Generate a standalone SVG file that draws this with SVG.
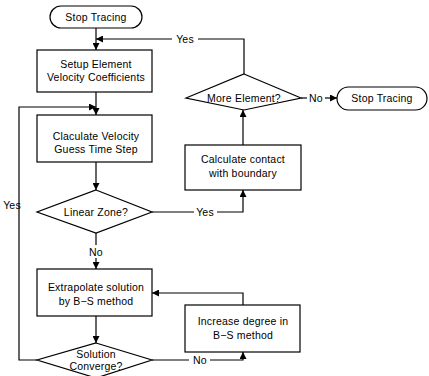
<svg xmlns="http://www.w3.org/2000/svg" width="429" height="376" viewBox="0 0 429 376">
<defs>
<marker id="ah" viewBox="0 0 10 10" refX="10" refY="5" markerWidth="7" markerHeight="7" markerUnits="userSpaceOnUse" orient="auto">
<path d="M0,0 L10,5 L0,10 z" fill="#000"/>
</marker>
</defs>
<style>
.s{fill:#fff;stroke:#000;stroke-width:1.2}
.c{fill:none;stroke:#000;stroke-width:1.2}
text{font-family:"Liberation Sans",Arial,sans-serif;font-size:10.5px;letter-spacing:0.2px;fill:#000;text-anchor:middle}
</style>
<rect width="429" height="376" fill="#fff"/>
<g id="connectors">
<path class="c" d="M96,28 V50" marker-end="url(#ah)"/>
<path class="c" d="M244,74 V39 H198"/>
<path class="c" d="M172,39 H96" marker-end="url(#ah)"/>
<path class="c" d="M96,92 V115" marker-end="url(#ah)"/>
<path class="c" d="M37,360 H19 V107 H96" marker-end="url(#ah)"/>
<path class="c" d="M96,162 V190" marker-end="url(#ah)"/>
<path class="c" d="M152,212 H194"/>
<path class="c" d="M217,212 H243 V190" marker-end="url(#ah)"/>
<path class="c" d="M243,145 V110" marker-end="url(#ah)"/>
<path class="c" d="M301,98 H307"/>
<path class="c" d="M325,98 H337" marker-end="url(#ah)"/>
<path class="c" d="M96,233 V245"/>
<path class="c" d="M96,258 V269" marker-end="url(#ah)"/>
<path class="c" d="M96,316 V343" marker-end="url(#ah)"/>
<path class="c" d="M152,360 H189"/>
<path class="c" d="M210,360 H243 V352" marker-end="url(#ah)"/>
<path class="c" d="M243,305 V293 H152" marker-end="url(#ah)"/>
<text x="185" y="43">Yes</text>
<text x="205" y="216">Yes</text>
<text x="316" y="102">No</text>
<text x="96" y="256">No</text>
<text x="200" y="364">No</text>
<text x="12" y="209">Yes</text>
</g>
<g id="start">
<rect class="s" x="50" y="6" width="92" height="22" rx="11"/>
<text x="96" y="21">Stop Tracing</text>
</g>
<g id="setup">
<rect class="s" x="37" y="50" width="115" height="42"/>
<text x="96" y="68">Setup Element</text>
<text x="96" y="81">Velocity Coefficients</text>
</g>
<g id="calcvel">
<rect class="s" x="37" y="115" width="115" height="47"/>
<text x="96" y="140">Claculate Velocity</text>
<text x="96" y="153">Guess Time Step</text>
</g>
<g id="linear">
<polygon class="s" points="96,190 152,212 96,233 37,212"/>
<text x="96" y="216">Linear Zone?</text>
</g>
<g id="extrap">
<rect class="s" x="37" y="269" width="115" height="47"/>
<text x="96" y="291">Extrapolate solution</text>
<text x="96" y="305">by B−S method</text>
</g>
<g id="converge">
<polygon class="s" points="96,343 152,360 96,378 37,360"/>
<text x="96" y="358">Solution</text>
<text x="96" y="370">Converge?</text>
</g>
<g id="increase">
<rect class="s" x="185" y="305" width="115" height="47"/>
<text x="243" y="325">Increase degree in</text>
<text x="243" y="339">B−S method</text>
</g>
<g id="contact">
<rect class="s" x="185" y="145" width="116" height="45"/>
<text x="243" y="163">Calculate contact</text>
<text x="243" y="177">with boundary</text>
</g>
<g id="more">
<polygon class="s" points="244,74 301,98 244,110 186,98"/>
<text x="244" y="102">More Element?</text>
</g>
<g id="stop2">
<rect class="s" x="337" y="87" width="90" height="23" rx="11.5"/>
<text x="382" y="102">Stop Tracing</text>
</g>
</svg>
